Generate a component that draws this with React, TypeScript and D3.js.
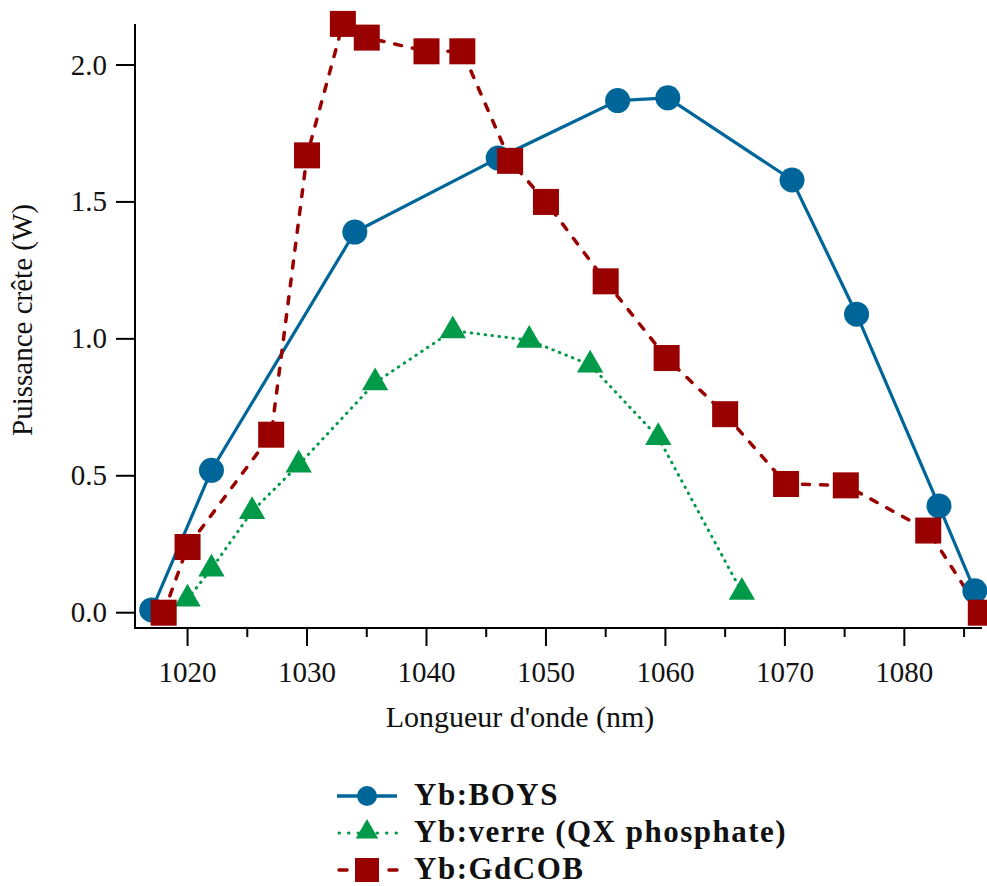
import React from "react";
import * as d3 from "d3";

const boysX = [1017, 1022, 1034, 1046, 1056, 1060.2, 1070.6, 1076, 1082.9, 1085.9];
const boysY = [0.01, 0.52, 1.39, 1.66, 1.87, 1.88, 1.58, 1.09, 0.39, 0.08];

const verreX = [1020, 1022, 1025.4, 1029.3, 1035.7, 1042.2, 1048.6, 1053.7, 1059.4, 1066.4];
const verreY = [0.05, 0.16, 0.37, 0.54, 0.84, 1.03, 0.995, 0.905, 0.64, 0.075];

const gdcobX = [1018, 1020, 1027, 1030, 1033, 1035, 1040, 1043, 1047, 1050, 1055, 1060.1, 1065, 1070.1, 1075.1, 1082, 1086.4];
const gdcobY = [0.0, 0.24, 0.65, 1.67, 2.15, 2.1, 2.05, 2.05, 1.65, 1.5, 1.21, 0.93, 0.725, 0.47, 0.465, 0.3, 0.0];

const xTicks = [1020, 1030, 1040, 1050, 1060, 1070, 1080];
const xMinor = [1025, 1035, 1045, 1055, 1065, 1075, 1085];
const yTicks = [0, 0.5, 1.0, 1.5, 2.0];

const seriesNames = ["Yb:BOYS", "Yb:verre (QX phosphate)", "Yb:GdCOB"];

const BLUE = "#006699";
const GREEN = "#009a49";
const RED = "#990000";
const FONT = "'Liberation Serif', 'DejaVu Serif', serif";

export default function App() {
  const W = 987, H = 886;
  const x = d3.scaleLinear().domain([1015.6, 1086.5]).range([135, 982]);
  const y = d3.scaleLinear().domain([0, 2.0]).range([612.7, 65]);
  const axTop = 24, axBottom = 628;

  const mk = (xs: number[], ys: number[]) => xs.map((v, i) => [v, ys[i]] as [number, number]);
  const boys = mk(boysX, boysY);
  const verre = mk(verreX, verreY);
  const gd = mk(gdcobX, gdcobY);

  const line = d3.line<[number, number]>().x(d => x(d[0])).y(d => y(d[1]));

  const tri = d3.symbol().type(d3.symbolTriangle).size(300)() as string;

  const legendY = [796, 833, 870];

  return (
    <svg width={W} height={H} style={{ display: "block", position: "absolute", left: 0, top: 0 }} fontFamily={FONT}>
      <rect width={W} height={H} fill="#fff" />
      {/* axes */}
      <line x1={135} x2={135} y1={axTop} y2={axBottom} stroke="#000" strokeWidth={2} />
      <line x1={134} x2={982} y1={axBottom} y2={axBottom} stroke="#000" strokeWidth={2} />
      {yTicks.map(t => (
        <g key={"y" + t}>
          <line x1={116} x2={135} y1={y(t)} y2={y(t)} stroke="#000" strokeWidth={2} />
          <text x={107} y={y(t)} dy="0.33em" textAnchor="end" fontSize={29} fill="#111">{t.toFixed(1)}</text>
        </g>
      ))}
      {xTicks.map(t => (
        <g key={"x" + t}>
          <line x1={x(t)} x2={x(t)} y1={axBottom} y2={axBottom + 18} stroke="#000" strokeWidth={2} />
          <text x={x(t)} y={682} textAnchor="middle" fontSize={29} fill="#111">{t}</text>
        </g>
      ))}
      {xMinor.map(t => (
        <line key={"m" + t} x1={x(t)} x2={x(t)} y1={axBottom} y2={axBottom + 9} stroke="#000" strokeWidth={2} />
      ))}
      <text x={520} y={727} textAnchor="middle" fontSize={30} fill="#111">Longueur d'onde (nm)</text>
      <text transform="translate(32,320) rotate(-90)" textAnchor="middle" fontSize={29} fill="#111">Puissance crête (W)</text>

      {/* lines */}
      <path d={line(verre) as string} fill="none" stroke={GREEN} strokeWidth={3} strokeDasharray="0.5 6.5" strokeLinecap="round" />
      <path d={line(boys) as string} fill="none" stroke={BLUE} strokeWidth={3.2} />
      <path d={line(gd) as string} fill="none" stroke={RED} strokeWidth={3.5} strokeDasharray="7 11" strokeLinecap="round" />

      {/* markers */}
      {verre.map((d, i) => (
        <path key={"v" + i} d={tri} transform={`translate(${x(d[0])},${y(d[1])})`} fill={GREEN} />
      ))}
      {boys.map((d, i) => (
        <circle key={"b" + i} cx={x(d[0])} cy={y(d[1])} r={12.5} fill={BLUE} />
      ))}
      {gd.map((d, i) => (
        <rect key={"g" + i} x={x(d[0]) - 13} y={y(d[1]) - 13} width={26} height={26} fill={RED} />
      ))}

      {/* legend */}
      <g>
        <line x1={337} x2={397} y1={legendY[0]} y2={legendY[0]} stroke={BLUE} strokeWidth={3.5} />
        <circle cx={367} cy={legendY[0]} r={10} fill={BLUE} />
        <line x1={339} x2={397} y1={legendY[1]} y2={legendY[1]} stroke={GREEN} strokeWidth={3} strokeDasharray="0.5 9" strokeLinecap="round" />
        <path d={d3.symbol().type(d3.symbolTriangle).size(220)() as string} transform={`translate(367,${legendY[1] - 1})`} fill={GREEN} />
        <line x1={339} x2={398} y1={legendY[2]} y2={legendY[2]} stroke={RED} strokeWidth={3.5} strokeDasharray="8 42" strokeLinecap="round" />
        <rect x={355} y={legendY[2] - 12} width={24} height={24} fill={RED} />
        {seriesNames.map((n, i) => (
          <text key={n} x={414} y={legendY[i]} dy="0.3em" fontSize={31} fontWeight="bold" letterSpacing={1.5} fill="#111">{n}</text>
        ))}
      </g>
    </svg>
  );
}
